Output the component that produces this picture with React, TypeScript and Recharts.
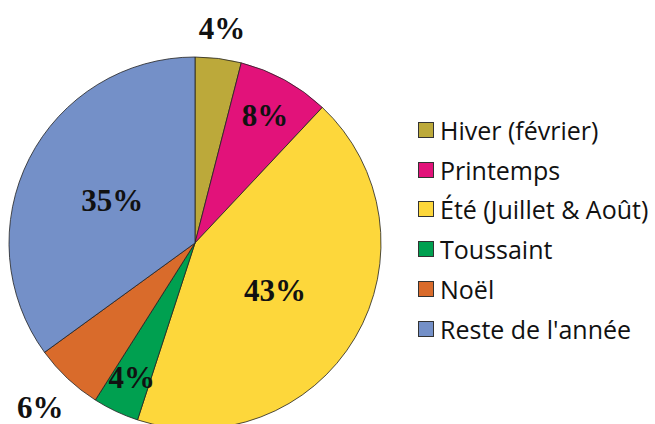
import React from 'react';
import { PieChart, Pie, Cell, Legend } from 'recharts';

const categories = ['Hiver (février)', 'Printemps', 'Été (Juillet & Août)', 'Toussaint', 'Noël', "Reste de l'année"];
const values = [4, 8, 43, 4, 6, 35];
const colors = ['#BCA93A', '#E2127A', '#FDD73B', '#00A050', '#D96B2B', '#7490C8'];
const labelRadiusFactors = [1.16, 0.78, 0.5, 0.8, 1.215, 0.5];

const data = categories.map((name, i) => ({ name, value: values[i] }));

const RAD = Math.PI / 180;

const renderLabel = (props: any) => {
  const { cx, cy, midAngle, outerRadius, index, value } = props;
  const r = outerRadius * labelRadiusFactors[index];
  const x = cx + r * Math.cos(-midAngle * RAD);
  const y = cy + r * Math.sin(-midAngle * RAD);
  return (
    <text
      x={x}
      y={y}
      textAnchor="middle"
      dominantBaseline="central"
      fill="#111"
      fontFamily="'Liberation Serif', 'DejaVu Serif', serif"
      fontWeight="bold"
      fontSize={31}
    >
      {`${value}%`}
    </text>
  );
};

const renderLegend = () => (
  <div style={{ fontFamily: "'Open Sans', sans-serif", fontSize: 25, color: '#111' }}>
    {categories.map((c, i) => (
      <div key={c} style={{ display: 'flex', alignItems: 'center', height: 39.8 }}>
        <span
          style={{
            display: 'inline-block',
            width: 14,
            height: 14,
            background: colors[i],
            border: '1px solid #333',
            marginRight: 6,
            flexShrink: 0,
          }}
        />
        <span style={{ whiteSpace: 'nowrap' }}>{c}</span>
      </div>
    ))}
  </div>
);

export default function App() {
  return (
    <div style={{ position: 'absolute', left: 0, top: 0, background: '#fff' }}>
      <PieChart width={655} height={424} margin={{ top: 0, right: 0, bottom: 0, left: 0 }}>
        <Pie
          data={data}
          dataKey="value"
          nameKey="name"
          cx={195}
          cy={243}
          outerRadius={186}
          startAngle={90}
          endAngle={-270}
          stroke="#222"
          strokeWidth={0.8}
          label={renderLabel}
          labelLine={false}
          isAnimationActive={false}
        >
          {data.map((d, i) => (
            <Cell key={d.name} fill={colors[i]} />
          ))}
        </Pie>
        <Legend
          content={renderLegend}
          layout="vertical"
          wrapperStyle={{ left: 418, top: 110, width: 237 }}
        />
      </PieChart>
    </div>
  );
}
